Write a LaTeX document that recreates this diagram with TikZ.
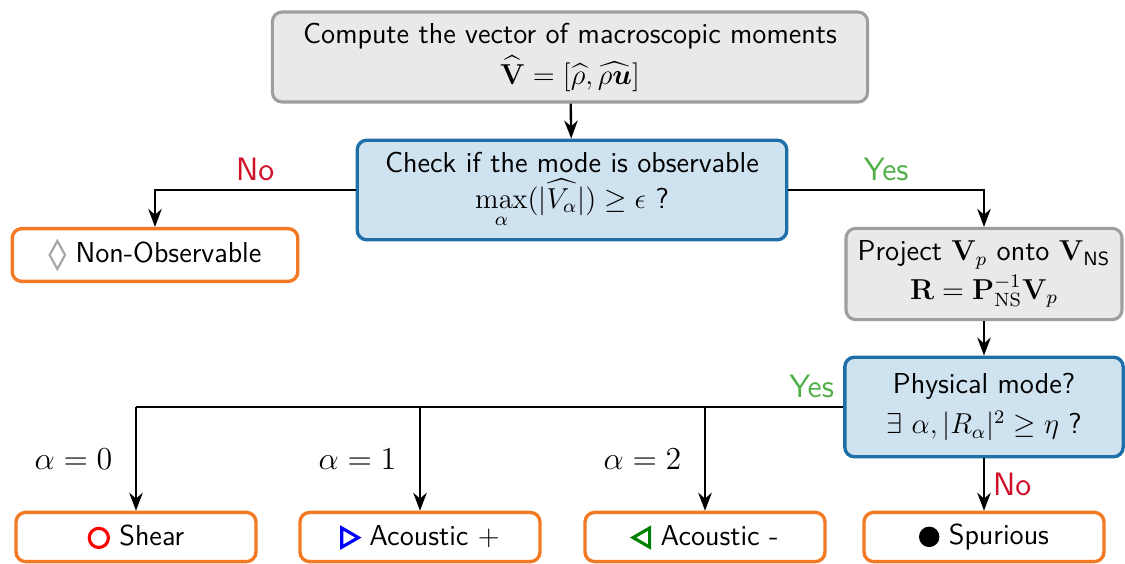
\documentclass[tikz,border=0pt]{standalone}
\usepackage{amsmath}
\usepackage{amssymb}
\usepackage{graphicx}
\usepackage{tikz}
\usepackage{xcolor}
\usetikzlibrary{arrows.meta,positioning}
\renewcommand{\familydefault}{\sfdefault}
\definecolor{boxgray}{RGB}{233,233,233}
\definecolor{edgegray}{RGB}{158,158,158}
\definecolor{softblue}{RGB}{207,226,239}
\definecolor{accentblue}{RGB}{31,110,167}
\definecolor{accentorange}{RGB}{243,122,36}
\definecolor{nored}{RGB}{208,16,40}
\definecolor{yesgreen}{RGB}{80,176,72}
\definecolor{markgreen}{RGB}{0,128,0}

\newcommand{\markshear}{\tikz[baseline=-0.6ex,sharp corners]\draw[red,line width=1.3pt] (0,0) circle (0.75ex);}
\newcommand{\markplus}{\tikz[baseline=-0.6ex,sharp corners]\draw[blue,line width=1.3pt,line join=miter] (0pt,-0.75ex) -- (1.3ex,0pt) -- (0pt,0.75ex) -- cycle;}
\newcommand{\markminus}{\tikz[baseline=-0.6ex,sharp corners]\draw[markgreen,line width=1.3pt,line join=miter] (1.3ex,-0.75ex) -- (0pt,0pt) -- (1.3ex,0.75ex) -- cycle;}
\newcommand{\markspur}{\tikz[baseline=-0.6ex,sharp corners]\fill[black] (0,0) circle (0.8ex);}
\newcommand{\marknon}{\tikz[baseline=-0.6ex,sharp corners]\draw[gray!70,line width=0.9pt] (0pt,1.1ex) -- (0.6ex,0pt) -- (0pt,-1.1ex) -- (-0.6ex,0pt) -- cycle;}
\newcommand{\alphalabel}[1]{\scalebox{1.11}{\large$\alpha = #1$}}

\tikzset{
  graybox/.style={draw=edgegray, fill=boxgray, line width=1.3pt, rounded corners=4pt, align=center, font=\large},
  bluebox/.style={draw=accentblue, fill=softblue, line width=1.4pt, rounded corners=4pt, align=center, font=\large},
  outbox/.style={draw=accentorange, fill=white, line width=1.4pt, rounded corners=4pt, minimum width=100pt, minimum height=20.5pt, font=\large},
  link/.style={line width=1pt},
  branchlabel/.style={font=\fontsize{13.5}{16}\selectfont}
}

\begin{document}
\begin{tikzpicture}[>=Stealth, x=0.4167pt, y=-0.4167pt]
  \useasboundingbox (0,0) rectangle (1125,563);

  % decision boxes
  \node[graybox, minimum width=248pt, minimum height=37.5pt] (moments) at (570,57)
    {Compute the vector of macroscopic moments\\[2pt] $\widehat{\mathbf{V}} = [\widehat{\rho}, \widehat{\rho\boldsymbol{u}}]$};
  \node[bluebox, minimum width=179pt, minimum height=41.5pt] (check) at (572,190)
    {Check if the mode is observable\\[1pt] $\max\limits_{\alpha}(|\widehat{V_\alpha}|) \geq \epsilon$ ?};
  \node[graybox, minimum width=115pt, minimum height=38pt] (project) at (984,274)
    {Project $\mathbf{V}_p$ onto $\mathbf{V}_{\text{NS}}$\\[2pt] $\mathbf{R} = \mathbf{P}_{\mathrm{NS}}^{-1}\mathbf{V}_p$};
  \node[bluebox, minimum width=116pt, minimum height=41.5pt] (physical) at (984,407)
    {Physical mode?\\[3pt] $\exists\ \alpha, |R_\alpha|^2 \geq \eta$ ?};

  % outcomes
  \node[outbox, minimum width=119pt, minimum height=22pt] (nonobs) at (155,255) {\marknon\ Non-Observable};
  \node[outbox] (shear) at (136,537) {\markshear\ Shear};
  \node[outbox] (acplus) at (420,537) {\markplus\ Acoustic $+$};
  \node[outbox] (acminus) at (705,537) {\markminus\ Acoustic -};
  \node[outbox] (spur) at (984,537) {\markspur\ Spurious};

  % connectors
  \draw[link,->] (moments) -- (check);
  \draw[link,->] (check.west) -| (nonobs.north) node[pos=0.25, above, branchlabel, nored] {No};
  \draw[link,->] (check.east) -| (project.north) node[pos=0.25, above, branchlabel, yesgreen] {Yes};
  \draw[link,->] (project) -- (physical);
  \draw[link,->] (physical) -- (spur) node[midway, right, branchlabel, nored] {No};
  \draw[link] (physical.west) -- (physical.west -| shear.north)
    node[pos=0, above left, branchlabel, yesgreen] {Yes};
  \foreach \m/\a in {shear/0, acplus/1, acminus/2}
    \draw[link,->] (physical.west -| \m.north) -- (\m.north)
      node[midway, left=6pt] {\alphalabel{\a}};
\end{tikzpicture}
\end{document}
